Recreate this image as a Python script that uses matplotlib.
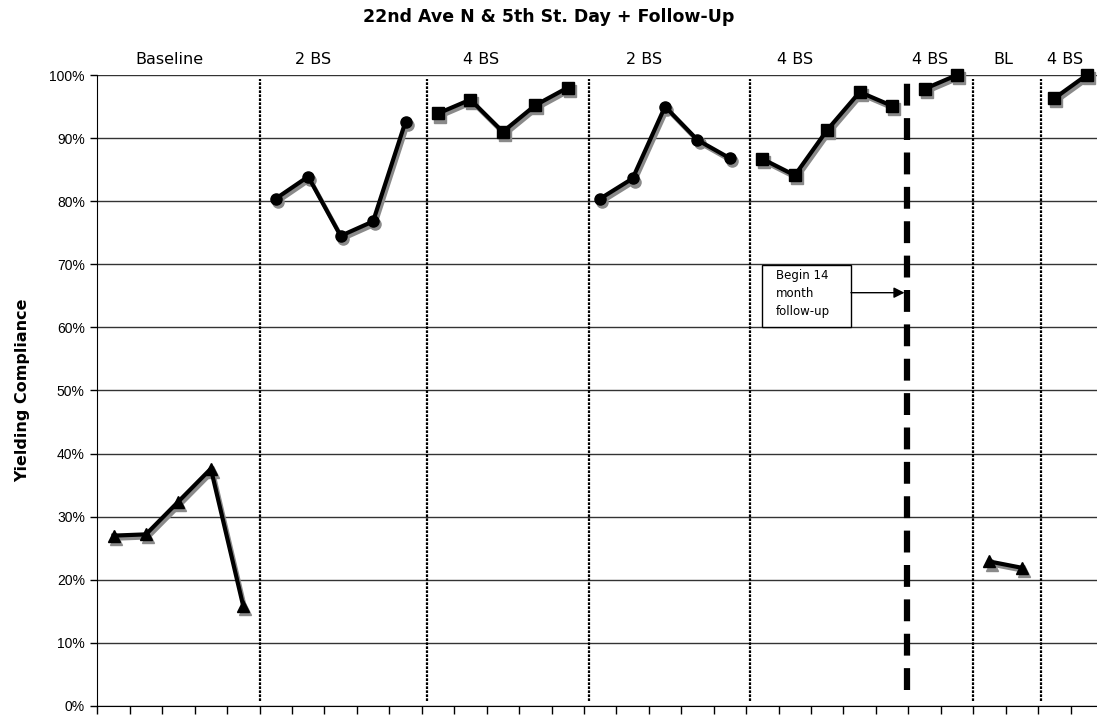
import matplotlib.pyplot as plt
import matplotlib.transforms as mtransforms
from matplotlib.patches import Rectangle
import numpy as np

# faze i vrijednosti (postotak popustanja)
faze = ["Baseline", "2 BS", "4 BS", "2 BS", "4 BS", "4 BS", "BL", "4 BS"]
vrijednosti = [
    [27.0, 27.2, 32.4, 37.6, 15.8],
    [80.4, 83.9, 74.5, 76.8, 92.6],
    [93.9, 96.1, 91.0, 95.2, 98.0],
    [80.4, 83.6, 95.0, 89.7, 86.8],
    [86.7, 84.1, 91.3, 97.3, 95.1],
    [97.8, 100.0],
    [22.9, 21.9],
    [96.3, 100.0],
]
markeri = ["^", "o", "s", "o", "s", "s", "^", "s"]
# polozaj natpisa faza (u kategorijama)
natpis_x = [1.71, 6.15, 11.32, 16.35, 21.0, 25.16, 27.44, 29.32]
# crte izmedju faza
granice = [4.52, 9.66, 14.65, 19.61, 26.49, 28.6]
follow_up = 24.45

fig = plt.figure(figsize=(10.97, 7.15), dpi=100)
ax = fig.add_axes([0.0887, 0.0126, 0.9168, 0.8825])

# sjena - ista crta pomaknuta desno i dolje
sjena_tr = mtransforms.offset_copy(ax.transData, fig=fig, x=1.5, y=-2.2, units="points")

pocetak = 0
for vals, m in zip(vrijednosti, markeri):
    x = np.arange(pocetak, pocetak + len(vals))
    ax.plot(x, vals, color="#8a8a8a", lw=3, marker=m, markersize=8, mec="#8a8a8a",
            transform=sjena_tr, zorder=4, clip_on=False)
    ax.plot(x, vals, color="black", lw=3, marker=m, markersize=8,
            zorder=5, clip_on=False)
    pocetak += len(vals)

n = pocetak
ax.set_xlim(-0.5, n - 0.5)
ax.set_ylim(0, 100)

for g in granice:
    ax.plot([g, g], [0.8, 99.3], color="black", lw=1.6, ls=(0, (1.2, 0.6)), zorder=3)
ax.plot([follow_up, follow_up], [2.5, 100], color="black", lw=4.5, ls=(0, (3.5, 2)), zorder=3)

for txt, xp in zip(faze, natpis_x):
    ax.text(xp, 101.2, txt, ha="center", va="bottom", fontsize=11.5)

# okvir s tekstom i strelica
ax.add_patch(Rectangle((19.98, 60.1), 2.75, 9.8, fc="white", ec="black", lw=1, zorder=6))
ax.text(20.41, 69.3, "Begin 14\nmonth\nfollow-up", ha="left", va="top", fontsize=8.5,
        linespacing=1.5, zorder=7)
ax.annotate("", xy=(24.38, 65.5), xytext=(22.73, 65.5),
            arrowprops=dict(arrowstyle="-|>", color="black", lw=1, mutation_scale=16,
                            shrinkA=0, shrinkB=0), zorder=6)

ax.set_yticks(np.arange(0, 101, 10))
ax.set_yticklabels([f"{v}%" for v in range(0, 101, 10)], fontsize=10, family="Liberation Sans")
ax.set_xticks(np.arange(-0.5, n, 1))
ax.set_xticklabels([])
ax.tick_params(axis="x", length=6, width=1, color="black")
ax.tick_params(axis="y", length=5, width=1, color="black", pad=4)
ax.grid(True, axis="y", color="#333333", lw=1)
ax.set_axisbelow(True)
for s in ["top", "right"]:
    ax.spines[s].set_visible(False)
ax.spines["left"].set_color("black")
ax.spines["bottom"].set_color("black")

ax.set_ylabel("Yielding Compliance", fontsize=11.5, fontweight="bold", labelpad=14)
fig.text(0.5, 0.976, "22nd Ave N & 5th St. Day + Follow-Up", ha="center", va="center",
         fontsize=12.5, fontweight="bold")

fig.savefig("out.png", dpi=100)
